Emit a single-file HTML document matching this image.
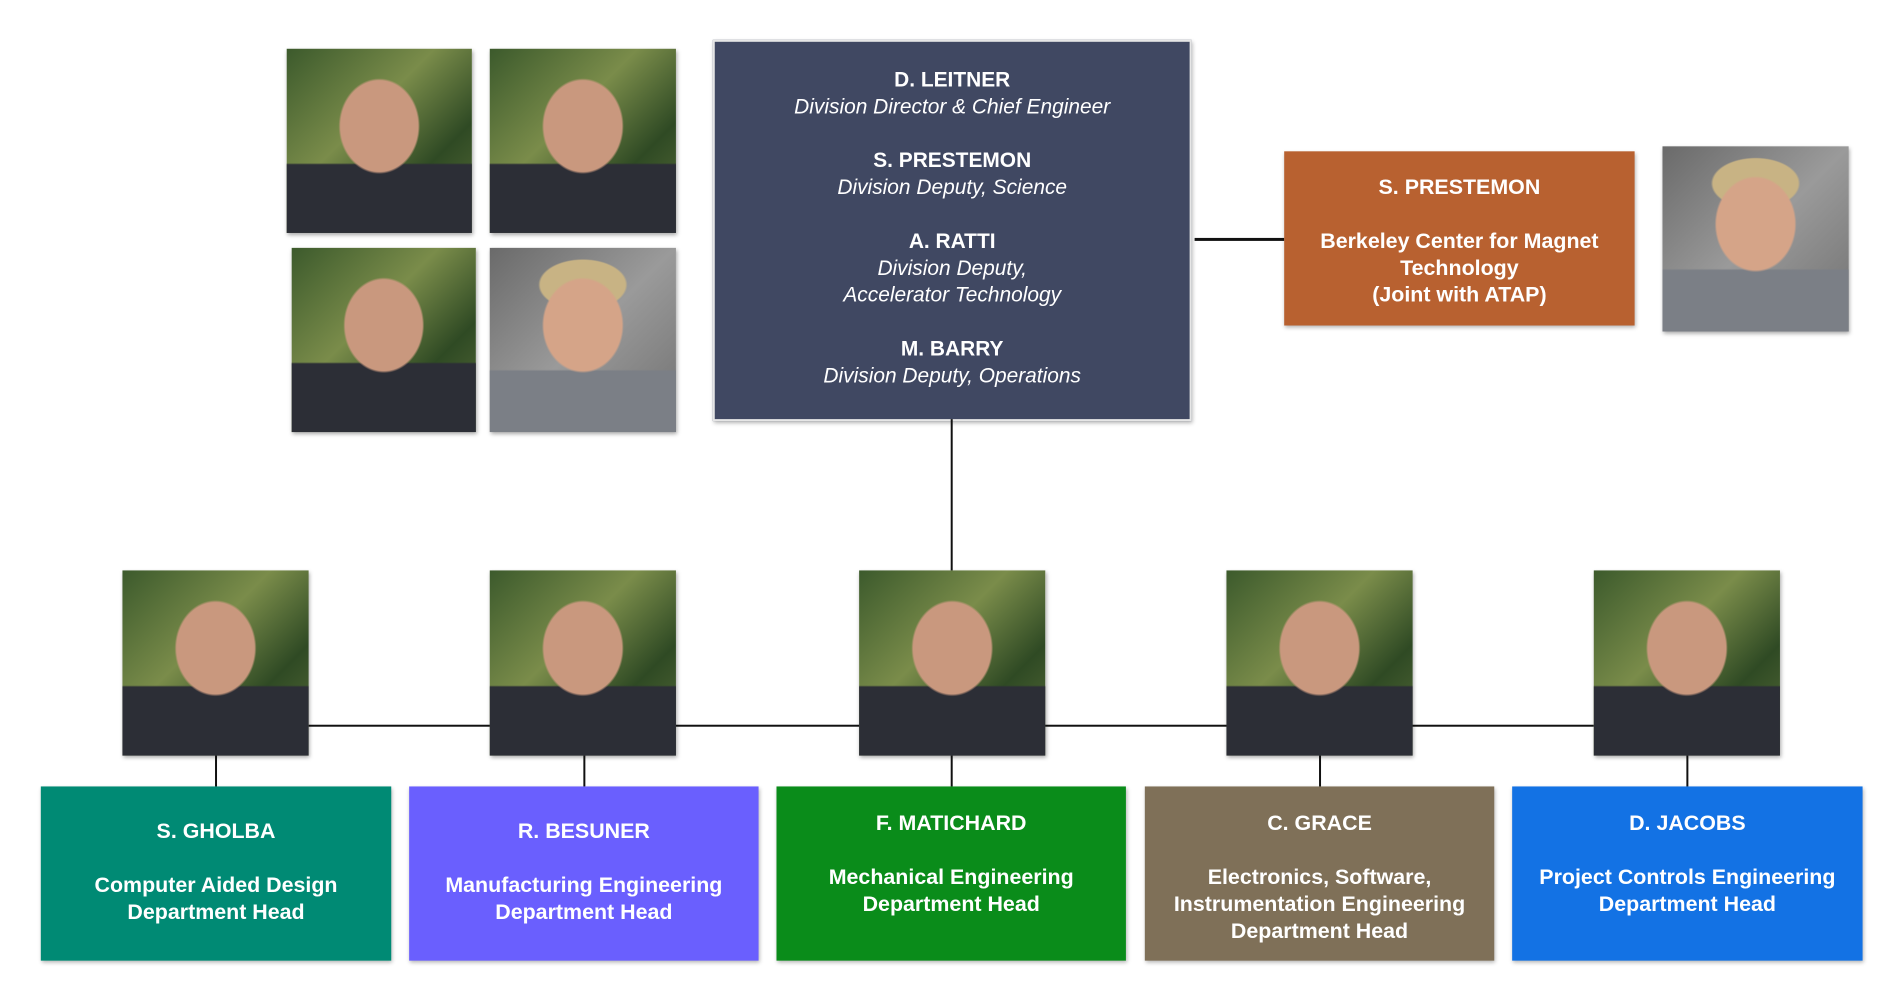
<!DOCTYPE html>
<html><head><meta charset="utf-8"><style>
body{margin:0;width:1902px;height:1002px;background:#fff;position:relative;overflow:hidden;font-family:"Liberation Sans",sans-serif}
#w{position:absolute;left:0;top:0;width:1902px;height:1002px;transform:scale(0.9955);transform-origin:0 0}
.a{position:absolute}
.ph{position:absolute;box-shadow:1px 2px 4px rgba(0,0,0,.35);background:radial-gradient(ellipse 22% 26% at 50% 42%,#c9987e 0 95%,transparent 100%),linear-gradient(180deg,transparent 62%,#2c2e36 63%),linear-gradient(135deg,#3c5a2c,#7a8c4a 40%,#2f4a24 70%,#5a6e3a)}
.g{background:radial-gradient(ellipse 22% 26% at 50% 42%,#d5a488 0 95%,transparent 100%),radial-gradient(ellipse 24% 14% at 50% 20%,#c8b384 0 95%,transparent 100%),linear-gradient(180deg,transparent 66%,#7b7f86 67%),linear-gradient(135deg,#6a6a6a,#9a9a9a 50%,#707070)}
.box{position:absolute;color:#fff;font-weight:bold;font-size:21.5px;text-align:center;box-shadow:1px 2px 4px rgba(0,0,0,.3);line-height:27px}
.ln{position:absolute;background:#111}
</style></head><body><div id="w">
<div class="ph" style="left:288px;top:49px;width:186px;height:185px"></div>
<div class="ph" style="left:492px;top:49px;width:187px;height:185px"></div>
<div class="ph" style="left:293px;top:249px;width:185px;height:185px"></div>
<div class="ph g" style="left:492px;top:249px;width:187px;height:185px"></div>
<div class="ph g" style="left:1670px;top:147px;width:187px;height:186px"></div>

<div class="a" style="left:716px;top:40px;width:477px;height:379px;background:#404862;border:2px solid #e6e6e6;box-shadow:1px 2px 4px rgba(0,0,0,.3);color:#fff;text-align:center;font-size:21px;line-height:27px">
<div style="margin-top:25px"><b>D. LEITNER</b><br><i>Division Director &amp; Chief Engineer</i></div>
<div style="margin-top:27px"><b>S. PRESTEMON</b><br><i>Division Deputy, Science</i></div>
<div style="margin-top:27px"><b>A. RATTI</b><br><i>Division Deputy,<br>Accelerator Technology</i></div>
<div style="margin-top:27px"><b>M. BARRY</b><br><i>Division Deputy, Operations</i></div>
</div>
<div class="ln" style="left:1200px;top:239px;width:90px;height:3px"></div>
<div class="box" style="left:1290px;top:152px;width:352px;height:175px;background:#b86130"><div style="margin-top:23px">S. PRESTEMON<br><br>Berkeley Center for Magnet<br>Technology<br>(Joint with ATAP)</div></div>

<div class="ln" style="left:955px;top:421px;width:2px;height:152px"></div>
<div class="ln" style="left:310px;top:728px;width:1291px;height:2px"></div>

<div class="ph" style="left:123px;top:573px;width:187px;height:186px"></div>
<div class="ph" style="left:492px;top:573px;width:187px;height:186px"></div>
<div class="ph" style="left:863px;top:573px;width:187px;height:186px"></div>
<div class="ph" style="left:1232px;top:573px;width:187px;height:186px"></div>
<div class="ph" style="left:1601px;top:573px;width:187px;height:186px"></div>

<div class="ln" style="left:216px;top:759px;width:2px;height:31px"></div>
<div class="ln" style="left:586px;top:759px;width:2px;height:31px"></div>
<div class="ln" style="left:955px;top:759px;width:2px;height:31px"></div>
<div class="ln" style="left:1325px;top:759px;width:2px;height:31px"></div>
<div class="ln" style="left:1694px;top:759px;width:2px;height:31px"></div>

<div class="box" style="left:41px;top:790px;width:352px;height:175px;background:#008a74"><div style="margin-top:32px">S. GHOLBA<br><br>Computer Aided Design<br>Department Head</div></div>
<div class="box" style="left:411px;top:790px;width:351px;height:175px;background:#6a5ffe"><div style="margin-top:32px">R. BESUNER<br><br>Manufacturing Engineering<br>Department Head</div></div>
<div class="box" style="left:780px;top:790px;width:351px;height:175px;background:#0a8c1a"><div style="margin-top:24px">F. MATICHARD<br><br>Mechanical Engineering<br>Department Head</div></div>
<div class="box" style="left:1150px;top:790px;width:351px;height:175px;background:#7f7058"><div style="margin-top:24px">C. GRACE<br><br>Electronics, Software,<br>Instrumentation Engineering<br>Department Head</div></div>
<div class="box" style="left:1519px;top:790px;width:352px;height:175px;background:#1372e4"><div style="margin-top:24px">D. JACOBS<br><br>Project Controls Engineering<br>Department Head</div></div>
</div></body></html>
